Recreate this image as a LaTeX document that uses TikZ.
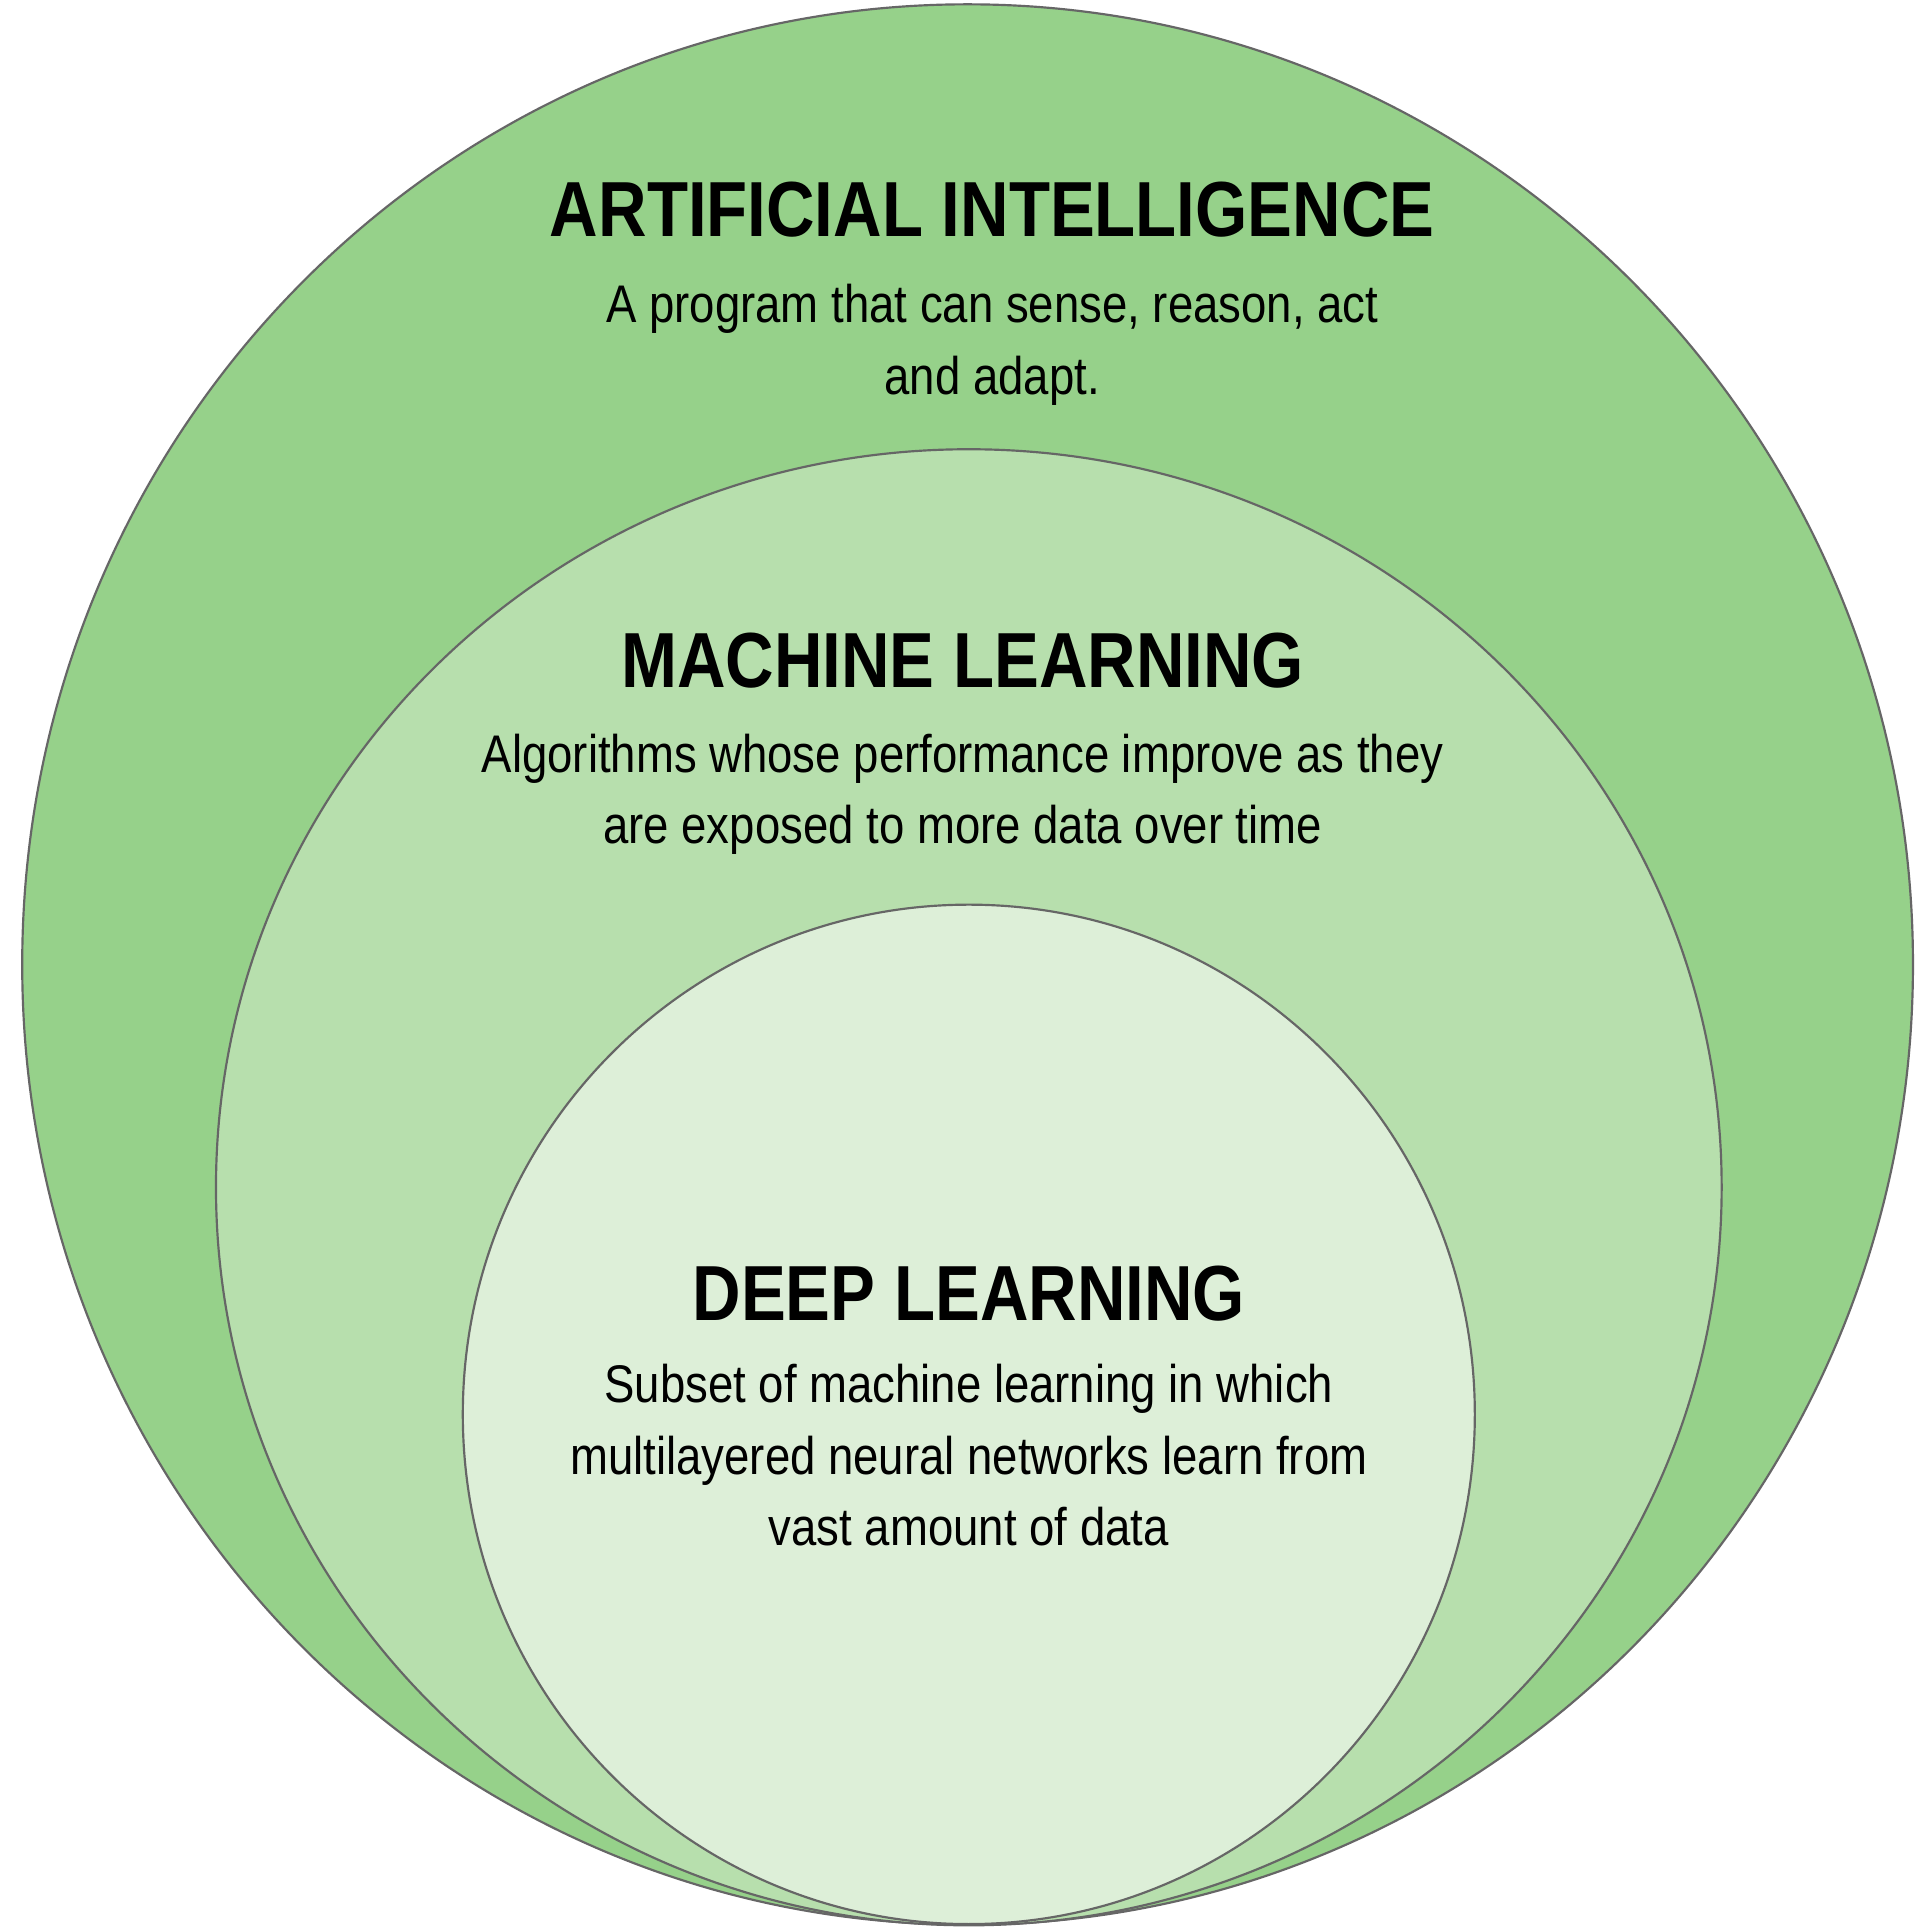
\documentclass[tikz,border=0pt]{standalone}
\usepackage{fontspec}
\setmainfont{Liberation Sans}[FakeStretch=0.86]
\begin{document}
\begin{tikzpicture}[x=0.01cm,y=-0.01cm,
  ring/.style={draw=black!60,line width=0.5pt},
  ttl/.style={font=\fontsize{18}{20}\selectfont\bfseries,anchor=center},
  txt/.style={font=\fontsize{12.2}{16.5}\selectfont,align=center,anchor=north}]
\useasboundingbox (0,0) rectangle (1560,1563);
\fill[white] (0,0) rectangle (1560,1563);
\draw[ring,fill={rgb,255:red,150;green,209;blue,138}] (784,781.5) ellipse [x radius=766,y radius=778];
\draw[ring,fill={rgb,255:red,183;green,223;blue,173}] (785,962) ellipse [x radius=610,y radius=598];
\draw[ring,fill={rgb,255:red,221;green,239;blue,216}] (785,1146) ellipse [x radius=410,y radius=413];
\node[ttl] (ait) at (804,170) {ARTIFICIAL INTELLIGENCE};
\node[txt] (aid) at (804,218) {A program that can sense, reason, act\\and adapt.};
\node[ttl] (mlt) at (780,535) {MACHINE LEARNING};
\node[txt] (mld) at (780,582) {Algorithms whose performance improve as they\\are exposed to more data over time};
\node[ttl] (dlt) at (785,1048) {DEEP LEARNING};
\node[txt] (dld) at (785,1093) {Subset of machine learning in which\\multilayered neural networks learn from\\vast amount of data};
\end{tikzpicture}
\end{document}
